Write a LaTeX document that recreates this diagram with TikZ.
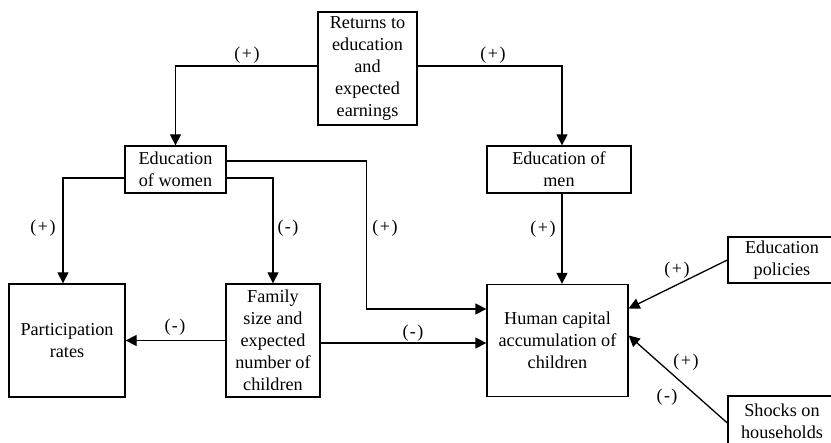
\documentclass[tikz,border=0pt]{standalone}
\usepackage{fontspec}
\setmainfont{Liberation Serif}
\newfontfamily\figfont{Liberation Serif}
\usetikzlibrary{arrows.meta}
\tikzset{
  box/.style={draw=black, line width=1.3pt, align=center, inner sep=0pt,
    font=\figfont\fontsize{18.2}{22}\selectfont},
  lbl/.style={font=\figfont\fontsize{18}{21}\selectfont, inner sep=0pt},
  arr/.style={line width=1.3pt, -{Triangle[length=11pt,width=11pt]}},
  ln/.style={line width=1.3pt}
}
\newcommand{\plus}{(\kern1.5pt+\kern1.5pt)}
\newcommand{\minus}{(\kern1.5pt-\kern1.5pt)}
\begin{document}
\begin{tikzpicture}[x=1pt,y=-1pt]
\useasboundingbox (0,0) rectangle (831,443);
\clip (0,0) rectangle (831,443);
% nodes
\node[box, minimum width=99pt, minimum height=113pt] (ret) at (367.5,68.5)
  {Returns to\\education\\and\\expected\\earnings};
\node[box, minimum width=101pt, minimum height=47pt] (wom) at (175.5,169.5)
  {Education\\of women};
\node[box, minimum width=144pt, minimum height=47pt] (men) at (559,169.5)
  {Education of\\men};
\node[box, minimum width=116pt, minimum height=113pt] (par) at (67,340.5)
  {Participation\\rates};
\node[box, minimum width=94pt, minimum height=113pt] (fam) at (273,340.5)
  {Family\\size and\\expected\\number of\\children};
\node[box, minimum width=141pt, minimum height=112pt] (hc) at (557.5,340.5)
  {Human capital\\accumulation of\\children};
\node[box, minimum width=108pt, minimum height=46pt] (pol) at (782,260)
  {Education\\policies};
\node[box, minimum width=108pt, minimum height=50pt] (sho) at (782,421)
  {Shocks on\\households};
\coordinate (mx) at (562,0);
% connectors
\draw[arr] ([yshift=2.5pt]ret.west) -| (wom.north);
\draw[arr] ([yshift=2.5pt]ret.east) -| (mx |- men.north);
\draw[arr] (mx |- men.south) -- (mx |- hc.north);
\draw[arr] ([yshift=8.5pt]wom.east) -- ++(140,0) |- ([yshift=31.5pt]hc.west);
\draw[arr] ([yshift=-8.5pt]wom.east) -| (fam.north);
\draw[arr] ([yshift=-8.5pt]wom.west) -| ([xshift=-4pt]par.north);
\draw[arr] (fam.west) -- (fam.west -| par.east);
\draw[arr] ([yshift=-2.5pt]fam.east) -- ([yshift=-2.5pt]fam.east -| hc.west);
\draw[arr] (pol.west) -- ([yshift=32pt]hc.east);
\draw[arr] ([yshift=-2pt]sho.west) -- ([yshift=5pt]hc.east);
% labels
\node[lbl] (l1) at (247,55) {\plus};
\node[lbl] (l2) at (493,55) {\plus};
\node[lbl] (l3) at (43,228) {\plus};
\node[lbl] (l4) at (288,228) {\minus};
\node[lbl] (l5) at (385,228) {\plus};
\node[lbl] (l6) at (543,229) {\plus};
\node[lbl] (l7) at (175,327) {\minus};
\node[lbl] (l8) at (413,333) {\minus};
\node[lbl] (l9) at (677,270) {\plus};
\node[lbl] (l10) at (686,362) {\plus};
\node[lbl] (l11) at (667,397) {\minus};
\end{tikzpicture}
\end{document}
